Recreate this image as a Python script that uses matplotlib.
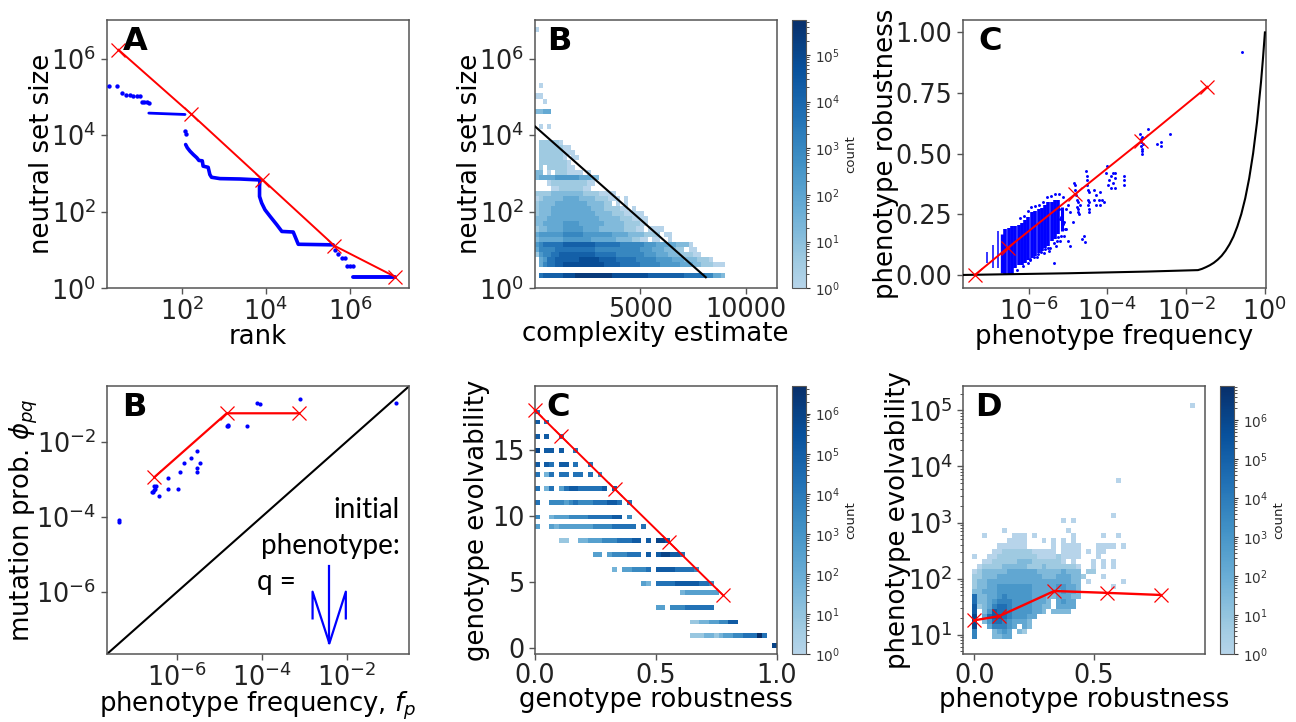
import numpy as np
import matplotlib
matplotlib.use("Agg")
import matplotlib.pyplot as plt
from matplotlib.colors import LogNorm, LinearSegmentedColormap
from matplotlib.ticker import NullLocator, FixedLocator

# ---------- panel A ----------
A_red_logx = [0.50, 2.22, 3.92, 5.63, 7.07]
A_red_logy = [6.23, 4.56, 2.84, 1.11, 0.301]
A_dots_logx = [0.27, 0.46, 0.59, 0.69, 0.77, 0.85, 0.93, 1.01, 1.05, 1.10, 1.17, 1.22, 2.08, 2.10, 5.64, 5.72, 5.80, 5.88, 5.92, 6.00, 6.08]
A_dots_logy = [5.275, 5.275, 5.11, 5.05, 5.04, 5.035, 5.03, 5.03, 4.87, 4.87, 4.86, 4.85, 4.12, 4.04, 1.00, 0.90, 0.79, 0.79, 0.59, 0.59, 0.59]
A_run1_logx = [1.22, 1.60, 2.08]
A_run1_logy = [4.576, 4.56, 4.54]
A_run2_logx = [2.095, 2.135, 2.2, 2.28, 2.36, 2.41, 2.49, 2.51, 2.63, 2.67, 2.71, 2.91, 3.39, 3.86, 3.85, 3.85, 3.90, 3.98, 4.10, 4.26, 4.38, 4.65, 4.77, 5.60]
A_run2_logy = [3.755, 3.67, 3.58, 3.49, 3.41, 3.34, 3.33, 3.19, 3.16, 2.97, 2.90, 2.865, 2.855, 2.83, 2.66, 2.40, 2.23, 2.05, 1.88, 1.66, 1.485, 1.47, 1.15, 1.135]
A_run3_logx = [6.06, 7.07]
A_run3_logy = [0.306, 0.306]

# ---------- panel B (top) ----------
B_rows = {
    48: "0", 37: ".0", 35: "00", 34: "..0", 32: "2233", 29: ".0.0",
    26: ".111110", 25: ".11111100", 24: ".111111000", 23: ".1111110.00",
    22: ".11111110", 21: ".1.1111100", 20: "22.0.1110000.0",
    19: "2333344444433322", 18: "...011111111100", 17: "....0011111100",
    16: "11112222222211110000", 15: "012222233332222111000.0",
    14: "1222233333333222211.0.0", 13: "12223333333333222111100.0",
    12: "122233333333333222211100000", 11: "2223333333333333222221110000",
    10: "2233333444433333322222111100", 9: "122333344444333322222211100.0000",
    8: "3444444555554444444333322221111.00", 7: "2333333444444433333322221100.00..0",
    6: "456666677777777666666555555444333332220",
    5: "3555566666666665555555555544433322211.00",
    4: "14556677777777766666555555544433322211100",
    3: ".3466777777888887777666665555544443332221110",
    2: ".3566778888888888777766666555554444433322111000",
    0: ".6777778889999999998888888887777777776666655332",
}
B_line_x = [0, 8117]
B_line_y = [17200, 1.94]

# ---------- panel C (top) ----------
C_red_logx = [-7.37, -6.525, -4.83, -3.14, -1.46]
C_red_y = [0.0, 0.113, 0.332, 0.552, 0.776]
C_black_logx = [-7.67, -5.0, -3.0, -1.70, -1.6, -1.5, -1.4, -1.3, -1.2, -1.1, -1.0, -0.9, -0.8, -0.7, -0.6, -0.5, -0.4, -0.3, -0.2, -0.1, -0.05, 0.0]
C_black_y = [0.0, 0.007, 0.014, 0.02, 0.025, 0.032, 0.04, 0.05, 0.063, 0.079, 0.1, 0.126, 0.158, 0.2, 0.251, 0.316, 0.398, 0.501, 0.631, 0.794, 0.891, 1.0]
C_col_logx = [-7.07, -6.90, -6.77, -6.69, -6.60, -6.51, -6.43, -6.35, -6.26, -6.18, -6.09, -6.01, -5.92, -5.84, -5.75, -5.67, -5.58, -5.50, -5.42, -5.33, -5.25, -5.16]
C_col_lo = [0.05, 0.03, 0.03, 0.01, 0.0, 0.0, 0.0, 0.03, 0.04, 0.04, 0.05, 0.06, 0.07, 0.08, 0.09, 0.10, 0.11, 0.12, 0.14, 0.15, 0.17, 0.18]
C_col_hi = [0.096, 0.124, 0.18, 0.17, 0.19, 0.195, 0.20, 0.20, 0.205, 0.215, 0.225, 0.24, 0.26, 0.265, 0.27, 0.275, 0.29, 0.30, 0.30, 0.31, 0.31, 0.28]
C_col_w = [1.1, 1.1, 1.1, 2.4, 2.6, 2.6, 2.6, 2.6, 2.6, 2.6, 2.6, 2.6, 2.6, 2.6, 2.6, 2.6, 2.6, 2.6, 2.6, 2.6, 2.6, 2.2]
C_dots_logx = [-5.24, -5.18, -5.12, -5.05, -5.0, -4.95, -5.2, -5.1, -5.0, -4.95, -5.36, -5.5,
               -4.85, -4.83, -4.82, -4.80, -4.78, -4.78, -4.76, -4.75, -4.74, -4.72, -4.70,
               -4.88, -4.65, -4.60, -4.58,
               -4.55, -4.53, -4.52, -4.51, -4.50, -4.50, -4.49, -4.48, -4.47, -4.46, -4.48,
               -4.35, -4.33, -4.30, -4.29, -4.22, -4.20, -4.20, -4.15, -4.10,
               -4.03, -4.01, -3.98, -3.95, -3.92, -3.90, -3.87, -3.85, -3.82, -3.82, -3.80,
               -3.58, -3.58, -3.58,
               -3.17, -3.16, -3.15, -3.14, -3.13, -3.12, -3.11, -3.12, -3.10,
               -2.98, -2.75, -2.65, -2.65, -2.42, -0.59,
               -6.22, -6.12, -6.02, -5.93, -5.83, -5.73, -5.63, -5.53, -5.43, -5.33, -5.23, -5.13,
               -5.97, -5.87, -5.77, -5.68, -5.58, -5.47, -5.37, -5.28, -5.17, -5.08, -5.15, -5.21,
               -6.3, -6.14, -6.03, -5.96, -5.78, -5.62, -5.48, -5.30, -5.26, -5.1, -5.06]
C_dots_y = [0.27, 0.24, 0.21, 0.19, 0.29, 0.26, 0.14, 0.16, 0.14, 0.12, 0.05, 0.11,
            0.38, 0.37, 0.35, 0.33, 0.31, 0.28, 0.30, 0.27, 0.26, 0.25, 0.29,
            0.22, 0.15, 0.16, 0.135,
            0.43, 0.41, 0.39, 0.37, 0.35, 0.31, 0.29, 0.27, 0.26, 0.30, 0.34,
            0.35, 0.31, 0.29, 0.33, 0.31, 0.34, 0.29, 0.31, 0.30,
            0.42, 0.45, 0.37, 0.39, 0.36, 0.41, 0.38, 0.42, 0.40, 0.36, 0.42,
            0.41, 0.39, 0.37,
            0.58, 0.56, 0.55, 0.53, 0.51, 0.50, 0.52, 0.57, 0.54,
            0.60, 0.54, 0.55, 0.53, 0.58, 0.92,
            0.235, 0.245, 0.265, 0.28, 0.285, 0.29, 0.30, 0.32, 0.325, 0.335, 0.335, 0.32,
            0.065, 0.075, 0.085, 0.095, 0.105, 0.11, 0.13, 0.14, 0.16, 0.19, 0.25, 0.23,
            0.02, 0.035, 0.05, 0.06, 0.075, 0.09, 0.10, 0.12, 0.155, 0.22, 0.27]

# ---------- panel B (bottom) ----------
P_red_logx = [-6.535, -4.83, -3.13]
P_red_logy = [-2.947, -1.248, -1.248]
P_logx = [-7.37, -7.37, -6.59, -6.56, -6.535, -6.52, -6.535, -6.50, -6.42, -6.22, -6.22, -5.98, -5.92, -5.83, -5.67, -5.53, -5.46, -5.53, -5.53, -4.83, -4.79, -4.81, -4.35, -4.12, -4.04, -3.11, -0.83]
P_logy = [-4.10, -4.14, -3.35, -3.33, -3.30, -3.26, -3.19, -3.19, -3.44, -3.27, -2.96, -3.27, -2.81, -2.58, -2.44, -2.26, -2.57, -2.70, -2.81, -1.58, -1.56, -1.59, -1.58, -0.98, -1.00, -0.87, -0.98]
glyph_x = [0.681, 0.681, 0.7366, 0.791, 0.791]
glyph_y = [0.134, 0.2336, 0.041, 0.2336, 0.134]
stem_x = [0.7366, 0.7366]
stem_y = [0.329, 0.041]

# ---------- panel C (bottom) ----------
G_red_x = [0.0, 0.11, 0.332, 0.555, 0.777]
G_red_y = [18, 16, 12, 8, 4]
G_row_y = [17.85, 17.1, 16, 14.95, 13.9, 13.1, 12.05, 11, 9.9, 9.2, 8.1, 7.05, 5.9, 4.85, 4.15, 3.05, 1.95, 0.9, 0.18]
G_rows = [
    "5", "6.5", "6.6..5", "7.66.6..5", "6.65.66.5..5", "5.25.55.55.5.4",
    "5.25.3566555556.6",
    "5..444345444555665.5",
    "4..233344445555566.4",
    "3..323333333444455555.5",
    ".....11..2233344455566.6.776",
    "............33.3444555.6.677665",
    "................2.334445.666655554",
    "......................32.555566666554",
    "..............................23333333",
    ".........................33.444555555",
    "................................1122334466",
    "................................1112212334455585",
    ".................................................7",
]

# ---------- panel D ----------
D_red_x = [0.0, 0.105, 0.335, 0.555, 0.78]
D_red_y = [18, 21.4, 60, 55.6, 51]
D_rows = {
    46: "............................................0",
    31: ".............................0",
    24: "............................0",
    23: "..................0.0",
    21: "......0............0",
    20: "..0.....000.0.......0.....0..0",
    19: ".......0000...0.0.0.0",
    18: ".....000000.....0.0000...0000.0",
    17: "....0011111100000.0000.0.00",
    16: "0..0011111111000010000...0",
    15: "..00111112221111110.0...0.0.0",
    14: ".011112222211121111110..0.0.0",
    13: "0122222333333222223222.11",
    12: "11222333333333222333221...0",
    11: "1223333333333333333322.0......0",
    10: "1223344444443333344332......0",
    9: "2233344444443333334332",
    8: "6223345444443332233322",
    7: "6223455544443332.3433",
    6: "7123566544443322.3333",
    5: "7.2476654444332.2222",
    4: "8.36776544433",
    3: "8.2466543332",
    2: "8..355543.32",
    1: "5...2343.21",
    0: "5...2233",
}

# ---------- tick labels ----------
A_xticks = [1e2, 1e4, 1e6]
size_ticks = [1e0, 1e2, 1e4, 1e6]
freq_ticks = [1e-6, 1e-4, 1e-2, 1e0]

W, H = 1296, 722
fig = plt.figure(figsize=(W / 100, H / 100), dpi=100)
plt.rcParams["font.family"] = "DejaVu Sans"
FS = 18.7
TS = 18.4
XP = -1.5
YP = -2.5
SP = "#555555"
blues = LinearSegmentedColormap.from_list("b", plt.get_cmap("Blues")(np.linspace(0.3, 1.0, 256)))


def mk(l, r, t, b):
    a = fig.add_axes([l / W, 1 - b / H, (r - l) / W, (b - t) / H])
    for s in a.spines.values():
        s.set_color(SP)
        s.set_linewidth(1.1)
    a.tick_params(labelsize=TS, colors="#222222", color=SP, width=1, length=4)
    a.tick_params(axis="x", pad=2.5)
    a.tick_params(which="minor", color=SP, width=0.7, length=2.2)
    return a


def letter(a, s, x, y=0.92):
    a.text(x, y, s, transform=a.transAxes, fontsize=23, fontweight="bold", ha="center", va="center", color="black", zorder=10)


def red(a, x, y, lw=1.4):
    a.plot(x, y, color="red", lw=lw, marker="x", ms=10.5, mew=0.9, clip_on=False, zorder=6)


def cbar(mesh, l, r, t, b):
    c = fig.add_axes([l / W, 1 - b / H, (r - l) / W, (b - t) / H])
    cb = fig.colorbar(mesh, cax=c)
    cb.set_label("count", fontsize=9.5, labelpad=3, color="#222222")
    cb.ax.tick_params(labelsize=9.8, length=3.2, width=0.8, color="#333333", labelcolor="#333333")
    cb.ax.tick_params(which="minor", length=1.8, width=0.6, color="#333333")
    cb.outline.set_edgecolor(SP)
    return cb


def matrix(rows, ncol, nrow, scale):
    m = np.full((nrow, ncol), np.nan)
    for r, s in rows.items():
        for c, ch in enumerate(s):
            if ch != ".":
                m[r, c] = 10 ** (int(ch) * scale)
    return m


def pow10(v):
    return [10.0 ** q for q in v]


# A
ax = mk(106.7, 409, 20.3, 288.3)
ax.set_xscale("log")
ax.set_yscale("log")
ax.set_xlim(10 ** 0.22, 10 ** 7.40)
ax.set_ylim(1, 1e7)
ax.scatter(pow10(A_dots_logx), pow10(A_dots_logy), s=10, color="blue", lw=0, zorder=3)
for rx, ry, w in [(A_run1_logx, A_run1_logy, 2.0), (A_run2_logx, A_run2_logy, 2.6), (A_run3_logx, A_run3_logy, 2.8)]:
    ax.plot(pow10(rx), pow10(ry), color="blue", lw=w, zorder=3, solid_capstyle="round")
red(ax, pow10(A_red_logx), pow10(A_red_logy))
ax.xaxis.set_major_locator(FixedLocator(A_xticks))
ax.yaxis.set_major_locator(FixedLocator(size_ticks))
ax.xaxis.set_minor_locator(NullLocator())
ax.yaxis.set_minor_locator(NullLocator())
ax.set_xlabel("rank", fontsize=FS, labelpad=XP)
ax.set_ylabel("neutral set size", fontsize=FS, labelpad=YP)
letter(ax, "A", 0.093)

# B top
ax = mk(534.7, 776.7, 20.3, 288.3)
ax.set_yscale("log")
xe = np.arange(49) * 192.0
ye = 10 ** (0.279 + np.arange(50) * 0.1336)
norm = LogNorm(vmin=1, vmax=10 ** 5.74)
mesh = ax.pcolormesh(xe, ye, matrix(B_rows, 48, 49, 0.6), cmap=blues, norm=norm, lw=0)
ax.plot(B_line_x, B_line_y, color="black", lw=1.5, zorder=5)
ax.set_xlim(0, 11480)
ax.set_ylim(1, 1e7)
ax.set_xticks([5000, 10000])
ax.yaxis.set_major_locator(FixedLocator(size_ticks))
ax.yaxis.set_minor_locator(NullLocator())
ax.set_xlabel("complexity estimate", fontsize=FS, labelpad=XP)
ax.set_ylabel("neutral set size", fontsize=FS, labelpad=YP)
letter(ax, "B", 0.10)
cbar(mesh, 791.7, 805.7, 20.3, 288.3)

# C top
ax = mk(963, 1265.7, 20.3, 288.3)
ax.set_xscale("log")
ax.set_xlim(10 ** -7.67, 10 ** 0.02)
ax.set_ylim(-0.055, 1.05)
ax.vlines(pow10(C_col_logx), C_col_lo, C_col_hi, color="blue", linewidths=C_col_w, zorder=2)
ax.scatter(pow10(C_dots_logx), C_dots_y, s=4.5, color="blue", lw=0, zorder=3)
ax.plot(pow10(C_black_logx), C_black_y, color="black", lw=1.5, zorder=4)
red(ax, pow10(C_red_logx), C_red_y)
ax.xaxis.set_major_locator(FixedLocator(freq_ticks))
ax.xaxis.set_minor_locator(NullLocator())
ax.set_yticks([0, 0.25, 0.5, 0.75, 1.0])
ax.set_yticklabels(["0.00", "0.25", "0.50", "0.75", "1.00"])
ax.set_xlabel("phenotype frequency", fontsize=FS, labelpad=XP)
ax.set_ylabel("phenotype robustness", fontsize=FS, labelpad=YP)
letter(ax, "C", 0.09)

# B bottom
ax = mk(106.7, 409, 386.3, 654.3)
ax.set_xscale("log")
ax.set_yscale("log")
lim = (10 ** -7.66, 10 ** -0.53)
ax.set_xlim(*lim)
ax.set_ylim(*lim)
ax.plot(lim, lim, color="black", lw=1.5, zorder=2)
ax.scatter(pow10(P_logx), pow10(P_logy), s=9, color="blue", lw=0, zorder=3)
red(ax, pow10(P_red_logx), pow10(P_red_logy), lw=1.6)
ax.xaxis.set_major_locator(FixedLocator([1e-6, 1e-4, 1e-2]))
ax.yaxis.set_major_locator(FixedLocator([1e-6, 1e-4, 1e-2]))
ax.xaxis.set_minor_locator(NullLocator())
ax.yaxis.set_minor_locator(NullLocator())
ax.set_xlabel("phenotype frequency, $f_p$", fontsize=FS, labelpad=XP)
ax.set_ylabel(r"mutation prob. $\phi_{pq}$", fontsize=FS, labelpad=YP)
letter(ax, "B", 0.09)
ax.text(0.97, 0.537, "initial", transform=ax.transAxes, ha="right", va="center", fontsize=20, family="Lato")
ax.text(0.97, 0.404, "phenotype:", transform=ax.transAxes, ha="right", va="center", fontsize=20, family="Lato")
ax.text(0.498, 0.27, "q =", transform=ax.transAxes, ha="left", va="center", fontsize=20, family="Lato")
ax.plot(glyph_x, glyph_y, transform=ax.transAxes, color="blue", lw=1.6)
ax.plot(stem_x, stem_y, transform=ax.transAxes, color="blue", lw=1.6)

# C bottom
ax = mk(534.7, 776.7, 386.3, 654.3)
norm = LogNorm(vmin=1, vmax=10 ** 6.68)
xe = np.arange(51) * 0.02
for yy, s in zip(G_row_y, G_rows):
    vals = np.full((1, 50), np.nan)
    for c, ch in enumerate(s):
        if ch != ".":
            vals[0, c] = 10 ** (int(ch) * 0.85)
    mesh = ax.pcolormesh(xe, [yy - 0.185, yy + 0.185], vals, cmap=blues, norm=norm, lw=0)
red(ax, G_red_x, G_red_y)
ax.set_xlim(0, 1)
ax.set_ylim(-0.5, 19.8)
ax.set_xticks([0, 0.5, 1.0])
ax.set_yticks([0, 5, 10, 15])
ax.set_xlabel("genotype robustness", fontsize=FS, labelpad=XP)
ax.set_ylabel("genotype evolvability", fontsize=FS, labelpad=1.5)
letter(ax, "C", 0.098)
cbar(mesh, 791.7, 805.7, 386.3, 654.3)

# D
ax = mk(963, 1205, 386.3, 654.3)
ax.set_yscale("log")
norm = LogNorm(vmin=1, vmax=10 ** 6.87)
xe = -0.008 + np.arange(47) * 0.0207
ye = 10 ** (0.929 + np.arange(48) * 0.0893)
mesh = ax.pcolormesh(xe, ye, matrix(D_rows, 46, 47, 0.75), cmap=blues, norm=norm, lw=0)
red(ax, D_red_x, D_red_y, lw=1.7)
ax.set_xlim(-0.047, 0.966)
ax.set_ylim(10 ** 0.649, 10 ** 5.43)
ax.set_xticks([0, 0.5])
ax.yaxis.set_major_locator(FixedLocator([1e1, 1e2, 1e3, 1e4, 1e5]))
ax.set_xlabel("phenotype robustness", fontsize=FS, labelpad=XP)
ax.set_ylabel("phenotype evolvability", fontsize=FS, labelpad=YP)
letter(ax, "D", 0.105)
cbar(mesh, 1220, 1233.7, 386.3, 654.3)

fig.savefig("out.png", dpi=100)
